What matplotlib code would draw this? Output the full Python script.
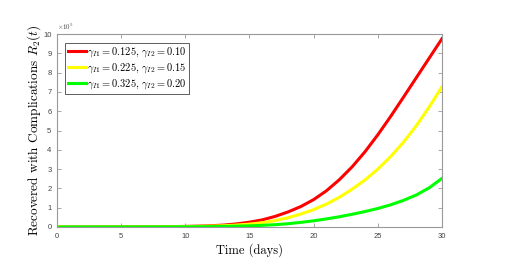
import matplotlib
matplotlib.use('Agg')
import matplotlib.pyplot as plt

# values in units of 1e5
days = list(range(0, 31))
red = [0.0, 0.001, 0.002, 0.003, 0.004, 0.006, 0.008, 0.011, 0.015, 0.02,
       0.03, 0.045, 0.065, 0.1, 0.16, 0.25, 0.37, 0.55, 0.78, 1.06,
       1.42, 1.88, 2.45, 3.12, 3.9, 4.78, 5.73, 6.73, 7.74, 8.75, 9.76]
yellow = [0.0, 0.001, 0.001, 0.002, 0.003, 0.004, 0.005, 0.007, 0.01, 0.014,
          0.02, 0.03, 0.045, 0.065, 0.1, 0.15, 0.22, 0.33, 0.48, 0.67,
          0.9, 1.19, 1.54, 1.96, 2.44, 3.0, 3.65, 4.4, 5.25, 6.22, 7.27]
green = [0.0, 0.0, 0.001, 0.001, 0.002, 0.002, 0.003, 0.004, 0.005, 0.007,
         0.01, 0.015, 0.02, 0.03, 0.045, 0.06, 0.085, 0.12, 0.17, 0.24,
         0.32, 0.42, 0.53, 0.66, 0.8, 0.96, 1.15, 1.38, 1.66, 2.03, 2.52]
labels = [r'$\gamma_{I1}=0.125,\,\gamma_{I2}=0.10$',
          r'$\gamma_{I1}=0.225,\,\gamma_{I2}=0.15$',
          r'$\gamma_{I1}=0.325,\,\gamma_{I2}=0.20$']

plt.rcParams['mathtext.fontset'] = 'cm'
plt.rcParams['font.family'] = 'Liberation Sans'

fig = plt.figure(figsize=(5.2, 2.79), dpi=100)
ax = fig.add_axes([0.1096, 0.1864, 0.7404, 0.6916])

ax.plot(days, red, color='#ff0000', lw=2.2, label=labels[0])
ax.plot(days, yellow, color='#ffff00', lw=2.2, label=labels[1])
ax.plot(days, green, color='#00ff00', lw=2.2, label=labels[2])

ax.set_xlim(0, 30)
ax.set_ylim(0, 10)
ax.set_xticks(range(0, 31, 5))
ax.set_yticks(range(0, 11))
ax.tick_params(direction='in', top=True, right=True, length=3, width=0.6,
               labelsize=5.5, colors='#999999', labelcolor='#444444', pad=4)
for s in ax.spines.values():
    s.set_color('#999999')
    s.set_linewidth(0.8)

ax.text(0.0, 1.012, r'$\times10^5$', transform=ax.transAxes, fontsize=5,
        color='#444444', ha='left', va='bottom')

ax.set_xlabel('Time (days)', fontfamily='cmr10', fontsize=9, labelpad=3)
ax.set_ylabel(r'Recovered with Complications $R_2(t)$', fontfamily='cmr10',
              fontsize=9.5, labelpad=0)

leg = ax.legend(loc='upper left', bbox_to_anchor=(0.021, 0.955), fontsize=7.5,
                fancybox=False, framealpha=1, handlelength=1.75,
                handletextpad=0.15, borderpad=0.25, labelspacing=0.22,
                borderaxespad=0)
leg.get_frame().set_edgecolor('#444444')
leg.get_frame().set_linewidth(0.6)

fig.savefig('out.png', dpi=100)
